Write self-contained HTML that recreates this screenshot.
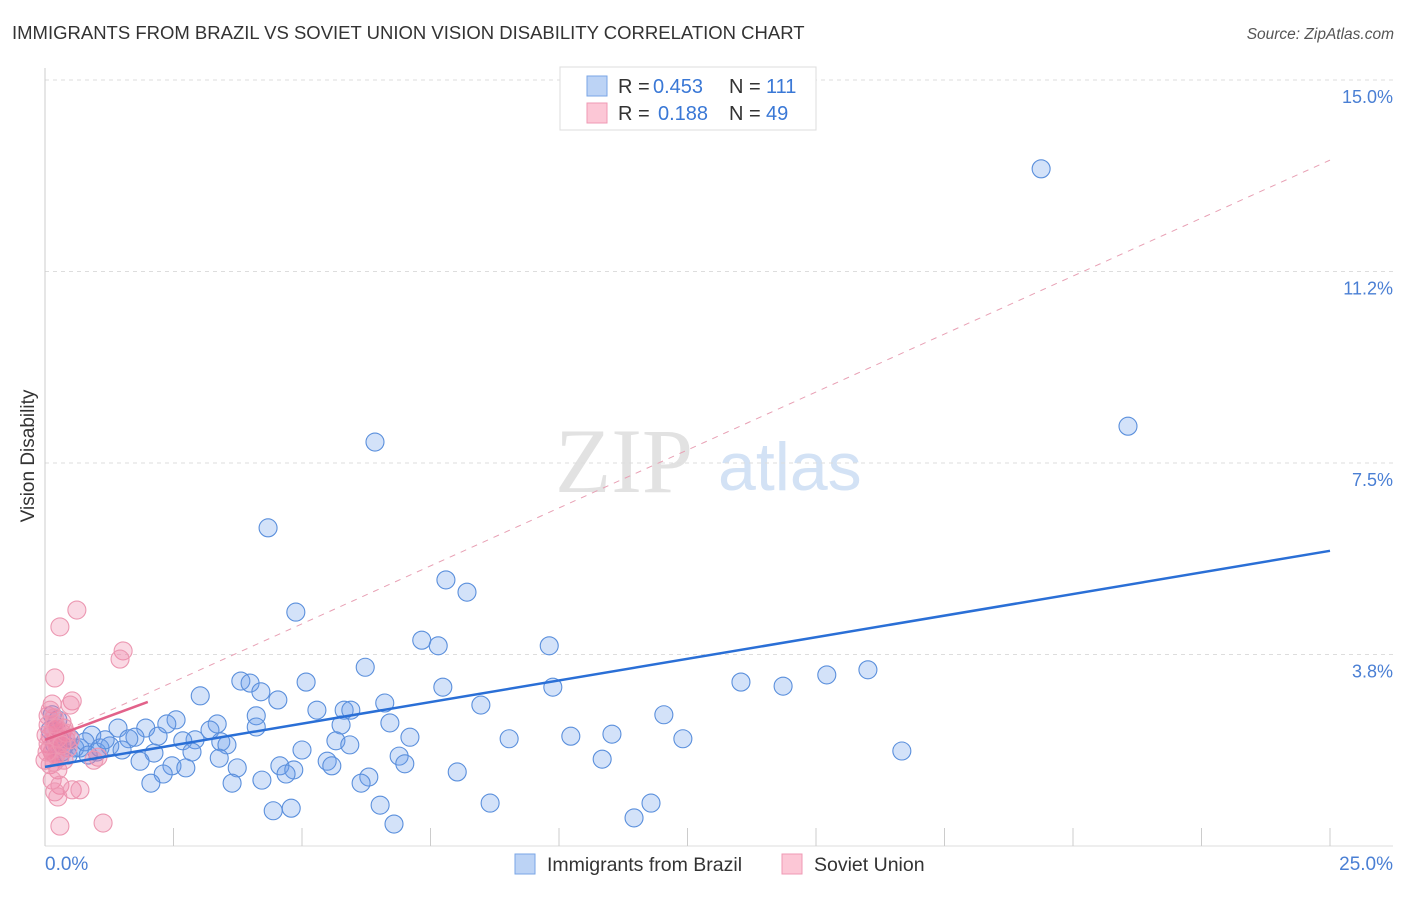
<!DOCTYPE html>
<html><head><meta charset="utf-8"><style>
body{margin:0;background:#fff;font-family:"Liberation Sans",sans-serif}
svg text{font-family:"Liberation Sans",sans-serif}
</style></head><body>
<svg width="1406" height="892" xmlns="http://www.w3.org/2000/svg">
<text x="12" y="39" font-size="18.5" fill="#333">IMMIGRANTS FROM BRAZIL VS SOVIET UNION VISION DISABILITY CORRELATION CHART</text>
<text x="1394" y="39" font-size="15.5" fill="#555" font-style="italic" text-anchor="end">Source: ZipAtlas.com</text>
<text x="555" y="492" font-size="92" fill="#e2e2e2" style="font-family:'Liberation Serif',serif">ZIP</text>
<text x="718" y="490" font-size="68" fill="#d3e2f5">atlas</text>
<g id="grid"></g>
<line x1="45" y1="68" x2="45" y2="846" stroke="#ccc"/>
<line x1="45" y1="846" x2="1393" y2="846" stroke="#ddd"/>
<g id="xticks"></g>
<text transform="translate(34,456) rotate(-90)" font-size="19" fill="#333" text-anchor="middle">Vision Disability</text>
<text x="45" y="870" font-size="19" fill="#4a7fd4">0.0%</text>
<text x="1393" y="870" font-size="19" fill="#4a7fd4" text-anchor="end">25.0%</text>
<g id="pts"></g>
<g id="lines"></g>
<g>
<rect x="560" y="67" width="256" height="63" fill="#fff" stroke="#ddd"/>
<rect x="587" y="76" width="20" height="20" fill="#bcd3f5" stroke="#7aa6e6"/>
<rect x="587" y="103" width="20" height="20" fill="#fcc7d6" stroke="#ef9ab4"/>
<text x="618" y="93" font-size="20" fill="#333">R =</text>
<text x="653" y="93" font-size="20" fill="#3a78d6">0.453</text>
<text x="729" y="93" font-size="20" fill="#333">N =</text>
<text x="766" y="93" font-size="20" fill="#3a78d6">111</text>
<text x="618" y="120" font-size="20" fill="#333">R =</text>
<text x="658" y="120" font-size="20" fill="#3a78d6">0.188</text>
<text x="729" y="120" font-size="20" fill="#333">N =</text>
<text x="766" y="120" font-size="20" fill="#3a78d6">49</text>
</g>
<g>
<rect x="515" y="854" width="20" height="20" fill="#bcd3f5" stroke="#7aa6e6"/>
<text x="547" y="871" font-size="19.5" fill="#333">Immigrants from Brazil</text>
<rect x="782" y="854" width="20" height="20" fill="#fcc7d6" stroke="#ef9ab4"/>
<text x="814" y="871" font-size="19.5" fill="#333">Soviet Union</text>
</g>
</svg>
<script>
const yTicks=[3.75,7.5,11.25,15];
const yTickLabels=["3.8%","7.5%","11.2%","15.0%"];
const xTicks=[0,2.5,5,7.5,10,12.5,15,17.5,20,22.5,25];
const brazilX=[19.38,21.07,6.42,4.34,7.80,8.21,4.88,7.33,7.65,9.81,6.23,16.01,15.21,13.54,14.36,3.81,3.99,5.08,7.74,9.88,4.20,3.02,4.53,6.61,8.48,5.29,5.82,5.95,12.04,2.55,2.37,4.11,6.71,3.35,5.76,1.42,1.96,3.21,4.11,0.91,1.75,2.20,1.63,7.10,9.03,10.23,11.03,12.41,2.92,2.68,3.42,3.54,5.66,5.93,5.00,6.89,16.67,1.26,1.50,0.68,1.01,2.12,2.86,3.39,5.49,7.00,10.84,1.85,2.47,2.74,3.74,4.57,4.84,5.58,8.02,2.30,4.22,4.69,6.30,2.06,3.64,6.15,6.52,8.66,11.79,4.44,4.79,6.79,11.46,0.29,0.19,0.39,0.58,0.49,0.78,0.10,0.25,0.33,0.84,1.07,1.17,0.45,0.14];
const brazilY=[13.26,8.22,7.91,6.23,5.21,4.97,4.58,4.03,3.92,3.92,3.50,3.45,3.35,3.21,3.13,3.23,3.19,3.21,3.11,3.11,3.02,2.94,2.86,2.80,2.76,2.66,2.66,2.66,2.57,2.47,2.39,2.55,2.41,2.39,2.37,2.31,2.31,2.27,2.33,2.17,2.13,2.15,2.10,2.13,2.10,2.15,2.19,2.10,2.08,2.06,2.04,1.98,2.06,1.98,1.88,1.76,1.86,1.96,1.88,1.92,1.84,1.82,1.84,1.72,1.66,1.61,1.70,1.66,1.57,1.53,1.53,1.57,1.49,1.57,1.45,1.41,1.29,1.41,1.35,1.23,1.23,1.23,0.80,0.84,0.84,0.69,0.74,0.43,0.55,2.08,1.98,1.98,1.92,2.11,2.04,2.27,2.47,1.84,1.78,1.92,2.08,1.78,2.57];
const sovietX=[0.62,0.29,1.52,1.46,0.19,0.53,0.14,0.49,0.06,0.18,0.37,0.33,0.10,0.21,0.41,0.06,0.25,0.45,0.14,0.29,0.00,0.10,0.49,1.03,0.95,0.25,0.14,0.29,0.19,0.53,0.68,0.25,0.29,1.13,0.06,0.16,0.33,0.10,0.21,0.02,0.37,0.18,0.25,0.04,0.41,0.19,0.10,0.33,0.23];
const sovietY=[4.62,4.29,3.82,3.66,3.29,2.84,2.78,2.76,2.55,2.51,2.31,2.21,2.15,2.08,2.08,2.00,1.96,1.92,1.84,1.74,1.68,1.59,2.08,1.74,1.68,1.49,1.29,1.19,1.06,1.10,1.10,0.96,0.39,0.45,2.37,2.27,2.43,1.92,1.78,2.17,1.68,1.64,2.11,1.84,2.21,2.39,2.66,1.98,2.31];
const brazilTrend=[[0,1.55],[25,5.78]];
const sovietTrend=[[0,2.08],[2.0,2.82]];
const sovietDashed=[[0,2.08],[25,13.43]];
const NS="http://www.w3.org/2000/svg";
const xs=v=>45+v*51.4, ys=v=>846-v*51.07;
function mk(t,a,p){const e=document.createElementNS(NS,t);for(const k in a)e.setAttribute(k,a[k]);p.appendChild(e);return e;}
const grid=document.getElementById('grid');
yTicks.forEach((t,i)=>{
 const l=mk('line',{x1:45,x2:1393,y1:ys(t),y2:ys(t),stroke:'#ddd','stroke-dasharray':'4,4'},grid);
 
 
 const tx=mk('text',{x:1393,y:ys(t)+23,'font-size':18,fill:'#4a7fd4','text-anchor':'end'},grid);
 tx.textContent=yTickLabels[i];
 
 
});
const xt=document.getElementById('xticks');
xTicks.forEach(t=>{
 const l=mk('line',{x1:xs(t),x2:xs(t),y1:828,y2:846,stroke:'#ccc'},xt);
 
 
});
const pts=document.getElementById('pts');
brazilX.forEach((x,i)=>{
 const c=mk('circle',{cx:xs(x),cy:ys(brazilY[i]),r:9,fill:'rgba(110,160,235,0.3)',stroke:'#5a8fdc','stroke-width':1.1},pts);
 
 
});
sovietX.forEach((x,i)=>{
 const c=mk('circle',{cx:xs(x),cy:ys(sovietY[i]),r:9,fill:'rgba(240,130,165,0.3)',stroke:'#ec98b2','stroke-width':1.1},pts);
 
 
});
const lg=document.getElementById('lines');
const d=mk('line',{x1:xs(sovietDashed[0][0]),y1:ys(sovietDashed[0][1]),x2:xs(sovietDashed[1][0]),y2:ys(sovietDashed[1][1]),stroke:'#e8a0b4','stroke-width':1,'stroke-dasharray':'6,6'},lg);


const b=mk('line',{x1:xs(brazilTrend[0][0]),y1:ys(brazilTrend[0][1]),x2:xs(brazilTrend[1][0]),y2:ys(brazilTrend[1][1]),stroke:'#2a6fd6','stroke-width':2.5},lg);


const s=mk('line',{x1:xs(sovietTrend[0][0]),y1:ys(sovietTrend[0][1]),x2:xs(sovietTrend[1][0]),y2:ys(sovietTrend[1][1]),stroke:'#e2628a','stroke-width':2.5},lg);


</script>
</body></html>
